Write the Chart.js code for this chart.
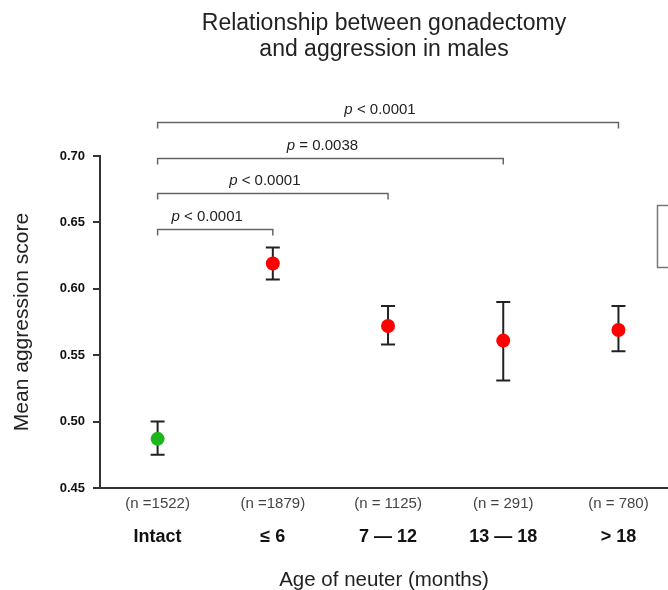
<!DOCTYPE html>
<html lang="en">
<head>
    <meta charset="UTF-8">
    <title>Gonadectomy and aggression</title>
    <style>
        body {
            margin: 0;
            background: #fff;
        }

        #chart-container {
            position: relative;
            width: 668px;
            height: 590px;
        }
    </style>
</head>
<body>
<div id="chart-container">
    <canvas id="aggression-chart"></canvas>
</div>
<script src="https://cdn.jsdelivr.net/npm/chart.js@4.4.1/dist/chart.umd.min.js"></script>
<script>
    const groups = ["Intact", "\u2264 6", "7 \u2014 12", "13 \u2014 18", "> 18"];
    const counts = ["(n =1522)", "(n =1879)", "(n = 1125)", "(n = 291)", "(n = 780)"];
    const means = [0.487, 0.619, 0.572, 0.561, 0.569];
    const errLow = [0.475, 0.607, 0.558, 0.531, 0.553];
    const errHigh = [0.500, 0.631, 0.587, 0.590, 0.587];
    const dotColors = ["#1fb51f", "#ff0000", "#ff0000", "#ff0000", "#ff0000"];

    // comparisons against "Intact" (index 0)
    const compareTo = [1, 2, 3, 4];
    const compareLevel = [0.645, 0.672, 0.6985, 0.7255];
    const compareText = ["< 0.0001", "< 0.0001", "= 0.0038", "< 0.0001"];

    const yTicks = [0.45, 0.50, 0.55, 0.60, 0.65, 0.70];

    const ink = "#333";
    const font = "'Liberation Sans', Arial, sans-serif";

    const extras = {
        id: "extras",
        beforeDatasetsDraw(chart) {
            const {ctx, scales: {x, y}} = chart;
            ctx.save();
            ctx.strokeStyle = "#222";
            ctx.lineWidth = 2;
            means.forEach((m, i) => {
                const px = x.getPixelForValue(i);
                const top = y.getPixelForValue(errHigh[i]);
                const bot = y.getPixelForValue(errLow[i]);
                ctx.beginPath();
                ctx.moveTo(px, top);
                ctx.lineTo(px, bot);
                ctx.moveTo(px - 7, top);
                ctx.lineTo(px + 7, top);
                ctx.moveTo(px - 7, bot);
                ctx.lineTo(px + 7, bot);
                ctx.stroke();
            });
            ctx.restore();
        },
        afterDraw(chart) {
            const {ctx, scales: {x, y}} = chart;
            ctx.save();
            ctx.strokeStyle = "#666";
            ctx.lineWidth = 1.5;
            ctx.fillStyle = "#222";
            ctx.textBaseline = "middle";
            const x0 = x.getPixelForValue(0);
            compareTo.forEach((to, k) => {
                const x1 = x.getPixelForValue(to);
                const py = Math.round(y.getPixelForValue(compareLevel[k])) + 0.5;
                ctx.beginPath();
                ctx.moveTo(x0, py + 6);
                ctx.lineTo(x0, py);
                ctx.lineTo(x1, py);
                ctx.lineTo(x1, py + 6);
                ctx.stroke();

                ctx.font = "italic 15px " + font;
                const wp = ctx.measureText("p").width;
                ctx.font = "15px " + font;
                const rest = " " + compareText[k];
                const wr = ctx.measureText(rest).width;
                const start = (x0 + x1) / 2 - (wp + wr) / 2 - 8;
                ctx.font = "italic 15px " + font;
                ctx.fillText("p", start, py - 13);
                ctx.font = "15px " + font;
                ctx.fillText(rest, start + wp, py - 13);
            });

            // legend box cut off by the right edge
            ctx.strokeStyle = "#777";
            ctx.lineWidth = 1.5;
            ctx.strokeRect(657.5, 205.5, 30, 62);
            ctx.restore();
        }
    };

    new Chart("aggression-chart", {
        type: "scatter",
        data: {
            datasets: [{
                data: means.map((m, i) => ({x: i, y: m})),
                pointRadius: 7,
                pointHoverRadius: 7,
                pointBackgroundColor: dotColors,
                pointBorderColor: dotColors,
                pointBorderWidth: 0
            }]
        },
        options: {
            responsive: true,
            maintainAspectRatio: false,
            animation: false,
            layout: {
                autoPadding: false,
                padding: 0
            },
            plugins: {
                legend: {display: false},
                tooltip: {enabled: false},
                title: {
                    display: true,
                    fullSize: false,
                    text: ["Relationship between gonadectomy", "and aggression in males"],
                    color: "#222",
                    font: {family: font, size: 23, weight: "normal", lineHeight: 1.13},
                    padding: {top: 11, bottom: 93}
                }
            },
            scales: {
                x: {
                    type: "linear",
                    position: "bottom",
                    min: -0.5,
                    max: 4.43,
                    afterBuildTicks: axis => {
                        axis.ticks = groups.map((g, i) => ({value: i}));
                    },
                    afterFit: axis => {
                        axis.height = 30;
                    },
                    grid: {display: false, drawTicks: false},
                    border: {display: true, color: ink, width: 2},
                    ticks: {
                        padding: 7,
                        maxRotation: 0,
                        color: "#444",
                        font: {family: font, size: 15},
                        callback: v => counts[v]
                    }
                },
                x2: {
                    type: "linear",
                    position: "bottom",
                    min: -0.5,
                    max: 4.43,
                    afterBuildTicks: axis => {
                        axis.ticks = groups.map((g, i) => ({value: i}));
                    },
                    afterFit: axis => {
                        axis.height = 72;
                    },
                    grid: {display: false, drawTicks: false},
                    border: {display: false},
                    ticks: {
                        padding: 8,
                        maxRotation: 0,
                        color: "#111",
                        font: {family: font, size: 18, weight: "bold"},
                        callback: v => groups[v]
                    },
                    title: {
                        display: true,
                        text: "Age of neuter (months)",
                        color: "#222",
                        font: {family: font, size: 20.5},
                        padding: {top: 0, bottom: -3}
                    }
                },
                y: {
                    min: 0.45,
                    max: 0.70,
                    afterBuildTicks: axis => {
                        axis.ticks = yTicks.map(v => ({value: v}));
                    },
                    afterFit: axis => {
                        axis.width = 100;
                    },
                    grid: {
                        drawOnChartArea: false,
                        drawTicks: true,
                        tickLength: 7,
                        color: ink,
                        lineWidth: 2
                    },
                    border: {display: true, color: ink, width: 2},
                    ticks: {
                        padding: 8,
                        color: "#111",
                        font: {family: font, size: 13, weight: "bold"},
                        callback: v => v.toFixed(2)
                    },
                    title: {
                        display: true,
                        text: "Mean aggression score",
                        color: "#222",
                        font: {family: font, size: 21},
                        padding: {top: 10, bottom: 0}
                    }
                }
            }
        },
        plugins: [extras]
    });
</script>
</body>
</html>
